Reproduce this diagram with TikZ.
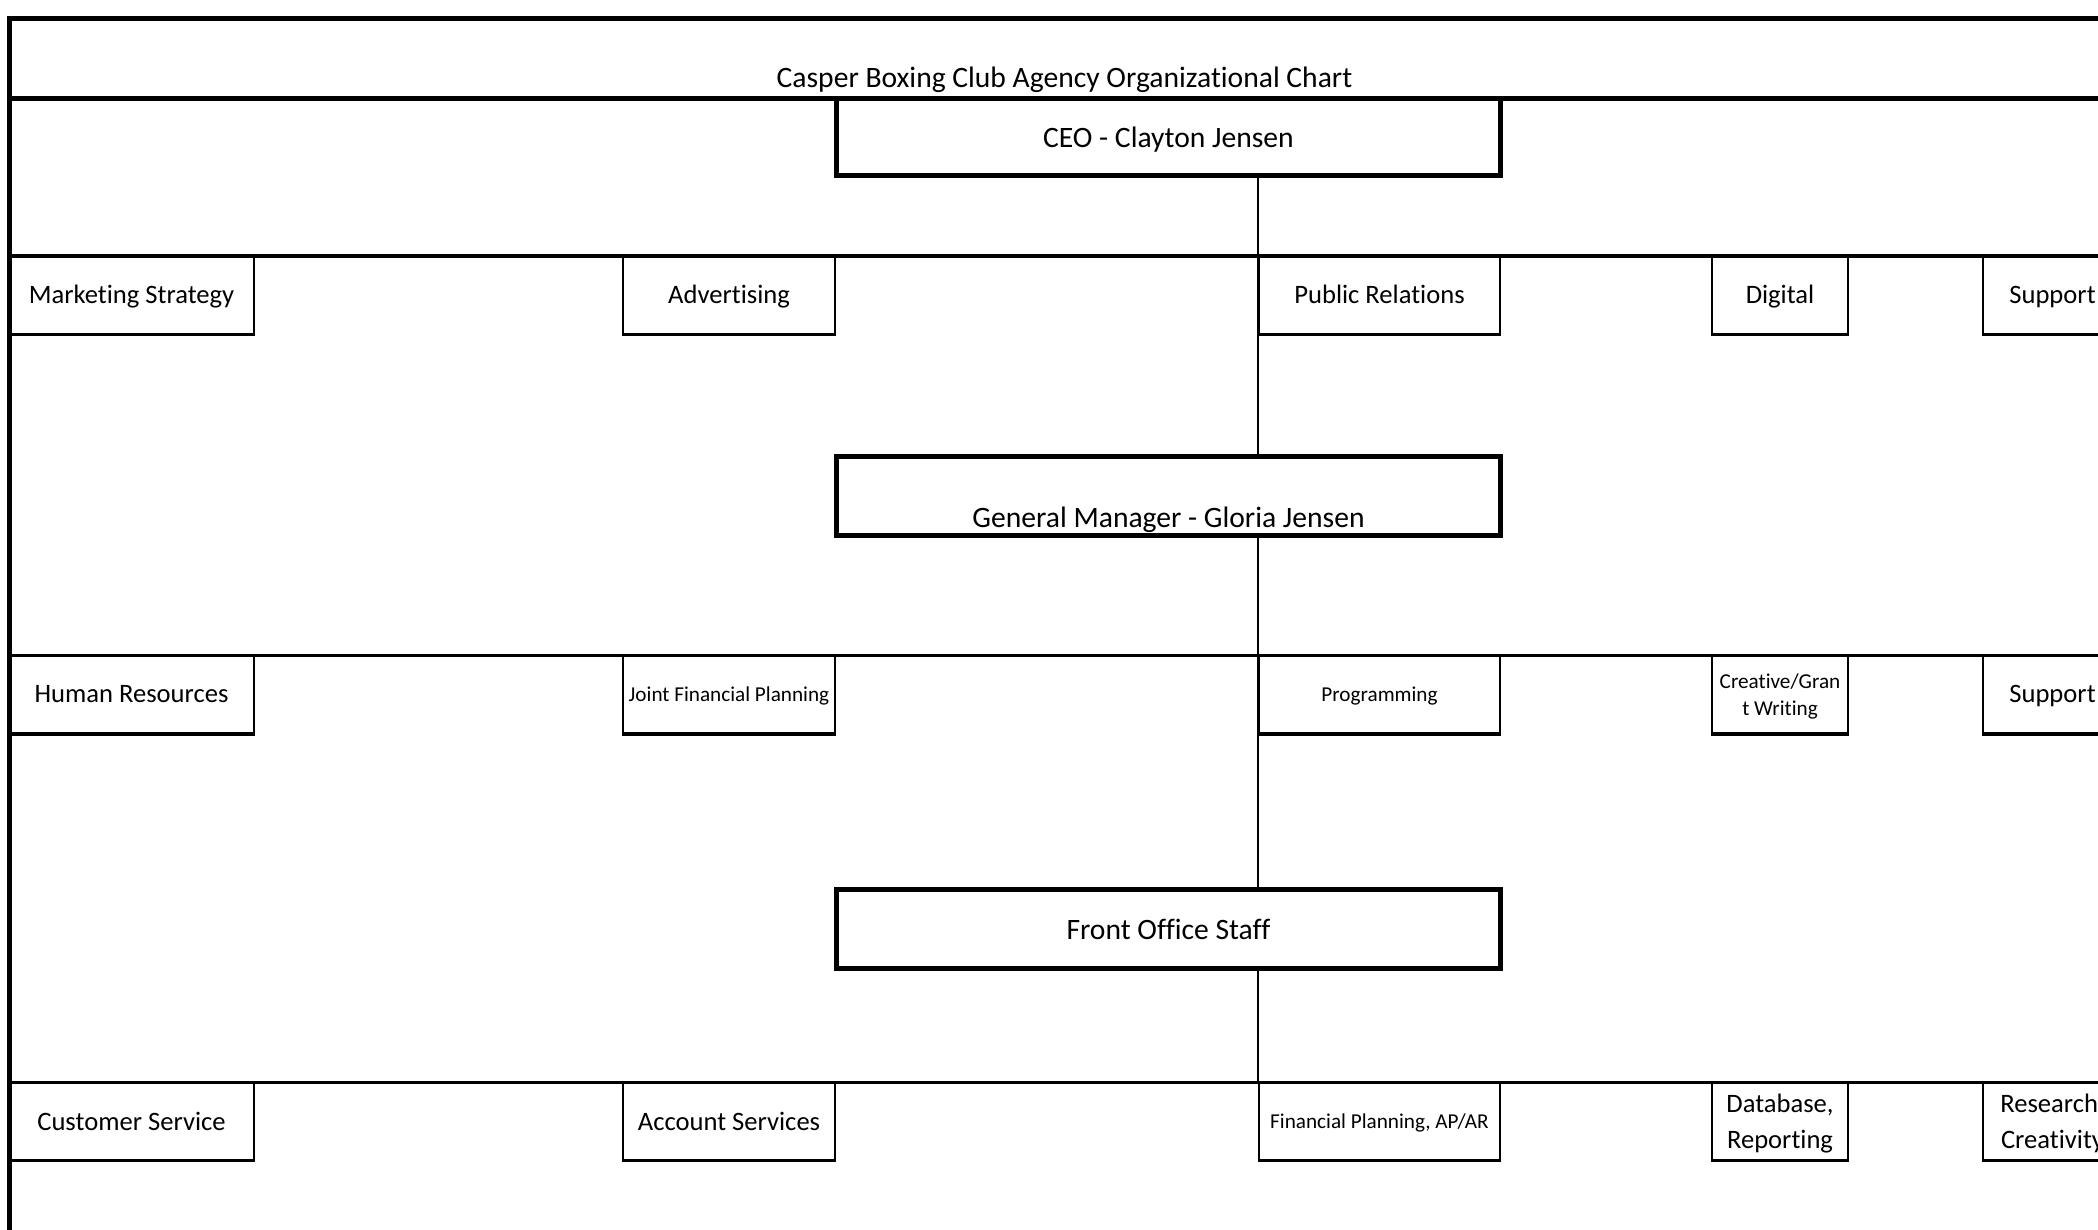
\documentclass[tikz,border=0pt]{standalone}
\usepackage{fontspec}
\setmainfont{Carlito}[Ligatures=NoCommon]
\newcommand{\bigfs}{\fontsize{14.8pt}{17pt}\selectfont}
\newcommand{\midfs}{\fontsize{13.3pt}{18pt}\selectfont}
\newcommand{\smallfs}{\fontsize{10.6pt}{13.5pt}\selectfont}
\begin{document}
\begin{tikzpicture}[x=0.5pt,y=-0.5pt,
  frame/.style={line width=2.5pt},
  rowline/.style={line width=1.6pt},
  conn/.style={line width=1pt},
  boxbase/.style={line width=1.6pt},
  bigbox/.style={draw, line width=2.5pt, minimum width=332pt, inner sep=0pt, text depth=0pt, font=\bigfs},
  unit/.style={draw, line width=1pt, minimum height=38.75pt, inner sep=0pt, text depth=0pt, align=center, font=\midfs},
  colA/.style={unit, minimum width=122pt},
  colB/.style={unit, minimum width=106pt},
  colC/.style={unit, minimum width=120.5pt},
  colD/.style={unit, minimum width=68pt},
  colE/.style={unit, minimum width=69.5pt},
  small/.style={font=\smallfs}]
  % page area
  \useasboundingbox (0,0) rectangle (2098,1230);
  \fill[white] (0,0) rectangle (2098,1230);
  \clip (0,0) rectangle (2098,1230);

  % outer frame and title strip
  \draw[frame] (9.5,1240) -- (9.5,18.5) -- (2110,18.5);
  \draw[frame] (9.5,99) -- (2110,99);
  \node[anchor=base, font=\bigfs] (title) at (1064.5,88) {Casper Boxing Club Agency Organizational Chart};

  % management boxes
  \node[bigbox, minimum height=38.25pt] (ceo) at (1168.5,137.25) {CEO - Clayton Jensen};
  \node[bigbox, minimum height=39.25pt] (gm) at (1168.5,495.75) {};
  \node[anchor=base, font=\bigfs] (gmlabel) at ([yshift=5.2pt]gm.south) {General Manager - Gloria Jensen};
  \node[bigbox, minimum height=39.5pt] (fos) at (1168.5,929) {Front Office Staff};

  % department rows
  \draw[rowline] (9.5,256) -- (2110,256);
  \draw[rowline] (9.5,655.5) -- (2110,655.5);
  \draw[rowline] (9.5,1082.5) -- (2110,1082.5);

  \node[colA] (mkt) at (131.5,294.75) {Marketing Strategy};
  \node[colB] (adv) at (729,294.75) {Advertising};
  \node[colC] (pr)  at (1379.5,294.75) {Public Relations};
  \node[colD] (dig) at (1780,294.75) {Digital};
  \node[colE] (supA) at (2052.5,294.75) {Support};

  \node[colA] (hr)  at (131.5,694.25) {Human Resources};
  \node[colB, small] (jfp) at (729,694.25) {Joint Financial Planning};
  \node[colC, small] (prog) at (1379.5,694.25) {Programming};
  \node[colD, small] (cgw) at (1780,694.25) {Creative/Gran\\t Writing};
  \node[colE] (supB) at (2052.5,694.25) {Support};

  \node[colA] (cs)  at (131.5,1121) {Customer Service};
  \node[colB] (acc) at (729,1121) {Account Services};
  \node[colC, small] (fin) at (1379.5,1121) {Financial Planning, AP/AR};
  \node[colD] (db)  at (1780,1121) {Database,\\Reporting};
  \node[colE] (res) at (2052.5,1121) {Research,\\Creativity};

  % heavier lower edges of the department boxes
  \foreach \n in {mkt,adv,pr,dig,supA,hr,jfp,prog,cgw,supB,cs,acc,fin,db,res}
    \draw[boxbase] (\n.south west) -- (\n.south east);

  % reporting line
  \draw[conn] (ceo.south -| pr.west) -- (gm.north -| pr.west);
  \draw[conn] (gm.south -| pr.west) -- (fos.north -| pr.west);
  \draw[conn] (fos.south -| pr.west) -- (fin.north west);
\end{tikzpicture}
\end{document}
